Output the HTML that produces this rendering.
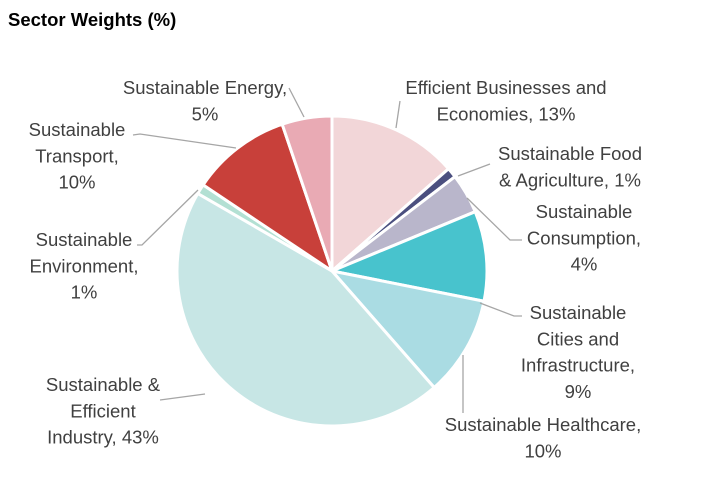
<!DOCTYPE html>
<html><head><meta charset="utf-8"><style>
html,body{margin:0;padding:0;background:#fff;width:701px;height:480px;overflow:hidden}
svg{display:block;font-family:"Liberation Sans","DejaVu Sans",sans-serif}
</style></head><body>
<svg id="chart" width="701" height="480" viewBox="0 0 701 480">
<text x="8" y="26" font-size="18.5" font-weight="bold" fill="#000">Sector Weights (%)</text>
<g id="slices"></g><g id="leaders"></g><g id="labels"></g>
</svg>
<script>
const categories = ["Efficient Businesses and Economies","Sustainable Food & Agriculture","Sustainable Consumption","Sustainable Cities and Infrastructure","Sustainable Healthcare","Sustainable & Efficient Industry","Sustainable Environment","Sustainable Transport","Sustainable Energy"];
const values = [13,1,4,9,10,43,1,10,5];
const valueLabels = ["13%","1%","4%","9%","10%","43%","1%","10%","5%"];
const colors = ["#f2d6d8","#4b4f7f","#b9b6cb","#48c3cd","#aadce3","#c7e6e5","#b3e0d3","#c8403a","#e9aab4"];
const labelLines = [
 ["Efficient Businesses and","Economies, 13%"],
 ["Sustainable Food","& Agriculture, 1%"],
 ["Sustainable","Consumption,","4%"],
 ["Sustainable","Cities and","Infrastructure,","9%"],
 ["Sustainable Healthcare,","10%"],
 ["Sustainable &","Efficient","Industry, 43%"],
 ["Sustainable","Environment,","1%"],
 ["Sustainable","Transport,","10%"],
 ["Sustainable Energy,","5%"]
];
const labelPos = [[506,88],[570,154],[584,212],[578,313],[543,425],[103,385],[84,240],[77,130],[205,88]];
const leaders = [
 [[400,101],[396,128]],
 [[490,164],[458,176]],
 [[522,240],[510,240],[467,198]],
 [[522,316],[514,316],[480,303]],
 [[463,413],[463,355]],
 [[160,400],[205,394]],
 [[137,245],[142,245],[198,190]],
 [[133,135],[140,134],[236,148]],
 [[289,88],[304,117]]
];
const NS="http://www.w3.org/2000/svg";
const cx=332, cy=271, r=155;
const total=values.reduce((a,b)=>a+b,0);
function pt(a,rr){return [cx+rr*Math.sin(a), cy-rr*Math.cos(a)];}
let a0=0;
const gS=document.getElementById('slices');
values.forEach((v,i)=>{
  const a1=a0+v/total*2*Math.PI;
  const p0=pt(a0,r), p1=pt(a1,r);
  const large=(a1-a0)>Math.PI?1:0;
  const p=document.createElementNS(NS,'path');
  p.setAttribute('d',`M${cx},${cy} L${p0[0]},${p0[1]} A${r},${r} 0 ${large} 1 ${p1[0]},${p1[1]} Z`);
  p.setAttribute('fill',colors[i]);
  p.setAttribute('stroke','#fff');
  p.setAttribute('stroke-width','3');
  p.setAttribute('stroke-linejoin','round');
  
  
  gS.appendChild(p);
  a0=a1;
});
const gL=document.getElementById('leaders');
leaders.forEach((pts,i)=>{
  const l=document.createElementNS(NS,'polyline');
  l.setAttribute('points',pts.map(q=>q.join(',')).join(' '));
  l.setAttribute('fill','none');
  l.setAttribute('stroke','#a6a6a6');
  l.setAttribute('stroke-width','1.3');
  
  
  gL.appendChild(l);
});
const gT=document.getElementById('labels');
labelLines.forEach((lines,i)=>{
  const t=document.createElementNS(NS,'text');
  t.setAttribute('text-anchor','middle');
  t.setAttribute('font-size','18.5');
  t.setAttribute('fill','#404040');
  
  
  lines.forEach((s,j)=>{
    const ts=document.createElementNS(NS,'tspan');
    ts.setAttribute('x',labelPos[i][0]);
    ts.setAttribute('y',labelPos[i][1]+6+j*26.3);
    ts.textContent=s;
    t.appendChild(ts);
  });
  gT.appendChild(t);
});
</script>
</body></html>
